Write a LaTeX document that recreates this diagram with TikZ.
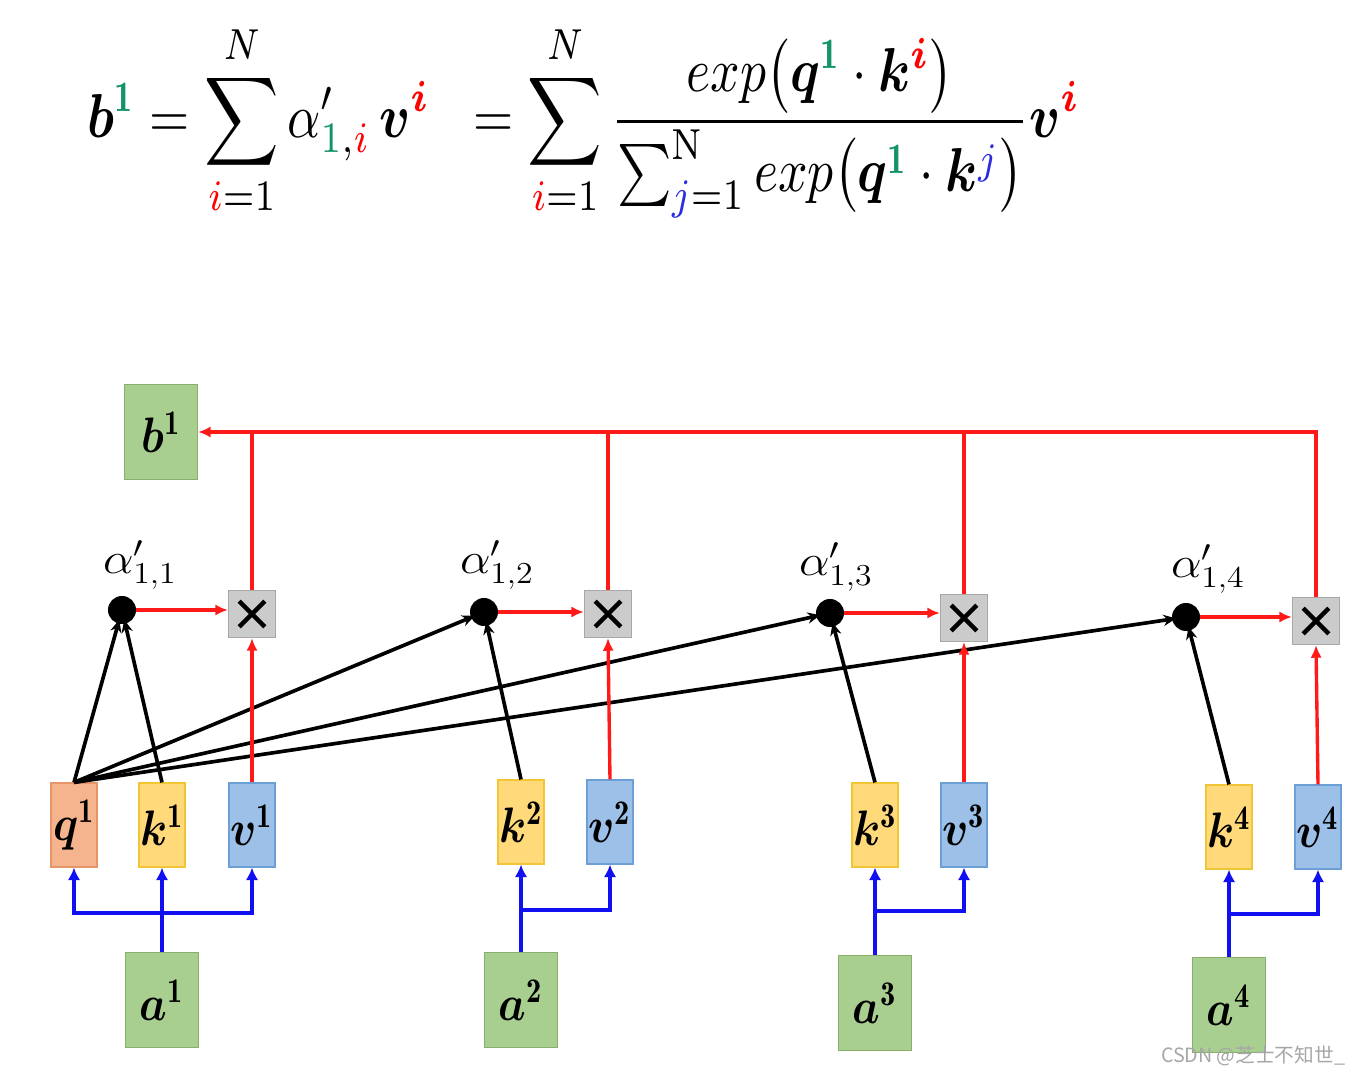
\RequirePackage{fix-cm}
\documentclass[tikz,border=0pt]{standalone}
\usepackage{amsmath,bm}
\usepackage{graphicx}
\usepackage{fontspec}
\newfontfamily\cjkfont{Noto Sans CJK SC}
\usetikzlibrary{arrows.meta}

\definecolor{tgreen}{HTML}{12936A}
\definecolor{jblue}{HTML}{2B2BE0}
\definecolor{lred}{HTML}{FF1A1A}
\definecolor{cblue}{HTML}{1010F0}
\definecolor{qfill}{HTML}{F6B48E}
\definecolor{qdraw}{HTML}{E8956A}
\definecolor{kfill}{HTML}{FFD97A}
\definecolor{kdraw}{HTML}{F2C535}
\definecolor{vfill}{HTML}{9DC0E8}
\definecolor{vdraw}{HTML}{6C9FD6}
\definecolor{afill}{HTML}{A9CF90}
\definecolor{adraw}{HTML}{86B06C}
\definecolor{mfill}{HTML}{CBCBCB}
\definecolor{mdraw}{HTML}{A8A8A8}

% vector label in a box, e.g. q^1
\newcommand{\veclab}[2]{\scalebox{1.8}[2.05]{$\boldsymbol{#1}^{\mathbf{#2}}$}}
% attention score label alpha'_{1,i}
\newcommand{\scorelab}[1]{\scalebox{2.0}[1.8]{$\alpha'_{1,#1}$}}

\tikzset{
  vecbox/.style={minimum width=1.15cm, minimum height=2.1cm, inner sep=0pt,
    line width=0.8pt, font=\LARGE},
  qbox/.style={vecbox, fill=qfill, draw=qdraw},
  kbox/.style={vecbox, fill=kfill, draw=kdraw},
  vbox/.style={vecbox, fill=vfill, draw=vdraw},
  inbox/.style={minimum width=1.825cm, minimum height=2.375cm, inner sep=0pt,
    line width=0.8pt, fill=afill, draw=adraw, font=\LARGE},
  mulbox/.style={minimum width=1.175cm, minimum height=1.175cm, inner sep=0pt,
    line width=0.8pt, fill=mfill, draw=mdraw,
    path picture={
      \draw[draw=black, line width=3.2pt]
        ([shift={(-0.32cm,0.32cm)}]path picture bounding box.center) --
        ([shift={(0.32cm,-0.32cm)}]path picture bounding box.center)
        ([shift={(-0.32cm,-0.32cm)}]path picture bounding box.center) --
        ([shift={(0.32cm,0.32cm)}]path picture bounding box.center);}},
  scoredot/.style={circle, fill=black, minimum size=0.7cm, inner sep=0pt},
  alab/.style={font=\LARGE, inner sep=0pt},
  redarr/.style={draw=lred, line width=2.4pt, -{Latex[length=9pt,width=8pt]}},
  redline/.style={draw=lred, line width=2.4pt},
  blkarr/.style={draw=black, line width=2.6pt, -{Stealth[length=9pt,width=8pt]},
    shorten >=-3pt},
  bluearr/.style={draw=cblue, line width=3pt, -{Latex[length=9pt,width=9pt]}},
  blueline/.style={draw=cblue, line width=3pt},
}

\begin{document}
\begin{tikzpicture}[x=0.025cm, y=-0.025cm]
\useasboundingbox (0,0) rectangle (1363,1075);

% weighted-sum formula
\node[inner sep=0pt] (formula) at (584,121) {\resizebox{24.8cm}{!}{\scalebox{1}[1.2]{$\displaystyle
  \boldsymbol{b}^{\color{tgreen}\mathbf{1}}
  = \sum_{{\color{red}i}=1}^{N} \alpha'_{{\color{tgreen}1},{\color{red}i}}\,
  \boldsymbol{v}^{\color{red}\boldsymbol{i}}
  \;\; = \sum_{{\color{red}i}=1}^{N}
  \frac{exp\bigl(\boldsymbol{q}^{\color{tgreen}\mathbf{1}}\cdot
        \boldsymbol{k}^{\color{red}\boldsymbol{i}}\bigr)}
       {\sum_{{\color{jblue}j}=1}^{\mathrm{N}}
        exp\bigl(\boldsymbol{q}^{\color{tgreen}\mathbf{1}}\cdot
        \boldsymbol{k}^{\color{jblue}j}\bigr)}
  \boldsymbol{v}^{\color{red}\boldsymbol{i}}$}}};

% output
\node[inbox] (b1) at (161,432) {\veclab{b}{1}};

% multiplication nodes
\node[mulbox] (m1) at (252,614) {};
\node[mulbox] (m2) at (608,614) {};
\node[mulbox] (m3) at (964,618) {};
\node[mulbox] (m4) at (1316,621) {};

% attention scores
\node[scoredot] (s1) at (122,610) {};
\node[scoredot] (s2) at (484,612) {};
\node[scoredot] (s3) at (830,613) {};
\node[scoredot] (s4) at (1186,617) {};
\node[alab] (l1) at (140,565) {\scorelab{1}};
\node[alab] (l2) at (497,565) {\scorelab{2}};
\node[alab] (l3) at (836,567) {\scorelab{3}};
\node[alab] (l4) at (1208,569) {\scorelab{4}};

% query, key, value vectors
\node[qbox] (q1) at (74,825) {\veclab{q}{1}};
\node[kbox] (k1) at (162,825) {\veclab{k}{1}};
\node[vbox] (v1) at (252,825) {\veclab{v}{1}};
\node[kbox] (k2) at (521,822) {\veclab{k}{2}};
\node[vbox] (v2) at (610,822) {\veclab{v}{2}};
\node[kbox] (k3) at (875,825) {\veclab{k}{3}};
\node[vbox] (v3) at (964,825) {\veclab{v}{3}};
\node[kbox] (k4) at (1229,827) {\veclab{k}{4}};
\node[vbox] (v4) at (1318,827) {\veclab{v}{4}};

% inputs
\node[inbox] (a1) at (162,1000) {\veclab{a}{1}};
\node[inbox] (a2) at (521,1000) {\veclab{a}{2}};
\node[inbox] (a3) at (875,1003) {\veclab{a}{3}};
\node[inbox] (a4) at (1229,1005) {\veclab{a}{4}};

% input to q, k, v
\coordinate (j1) at (162,913);
\coordinate (j2) at (521,910);
\coordinate (j3) at (875,911);
\coordinate (j4) at (1229,914);
\draw[blueline] (a1.north) -- (j1);
\draw[bluearr] (j1) -| (q1.south);
\draw[bluearr] (j1) -- (k1.south);
\draw[bluearr] (j1) -| (v1.south);
\draw[blueline] (a2.north) -- (j2);
\draw[bluearr] (j2) -- (k2.south);
\draw[bluearr] (j2) -| (v2.south);
\draw[blueline] (a3.north) -- (j3);
\draw[bluearr] (j3) -- (k3.south);
\draw[bluearr] (j3) -| (v3.south);
\draw[blueline] (a4.north) -- (j4);
\draw[bluearr] (j4) -- (k4.south);
\draw[bluearr] (j4) -| (v4.south);

% query-key dot products
\draw[blkarr] (q1.north) -- (s1);
\draw[blkarr] (q1.north) -- (s2);
\draw[blkarr] (q1.north) -- (s3);
\draw[blkarr] (q1.north) -- (s4);
\draw[blkarr] (k1.north) -- (s1);
\draw[blkarr] (k2.north) -- (s2);
\draw[blkarr] (k3.north) -- (s3);
\draw[blkarr] (k4.north) -- (s4);

% weighting of the values
\foreach \i in {1,2,3,4} {
  \draw[redarr] (s\i) -- (m\i.west |- s\i);
  \draw[redarr] (v\i.north) -- (m\i.south);
}

% summation into b1
\draw[redarr] (m4.north) |- (b1.east);
\draw[redline] (m1.north) -- (m1.north |- b1.east);
\draw[redline] (m2.north) -- (m2.north |- b1.east);
\draw[redline] (m3.north) -- (m3.north |- b1.east);

% watermark
\node[text=black!35, font=\cjkfont\fontsize{14}{15}\selectfont, anchor=east]
  (wm) at (1350,1056) {CSDN @芝士不知世\_};
\end{tikzpicture}
\end{document}
